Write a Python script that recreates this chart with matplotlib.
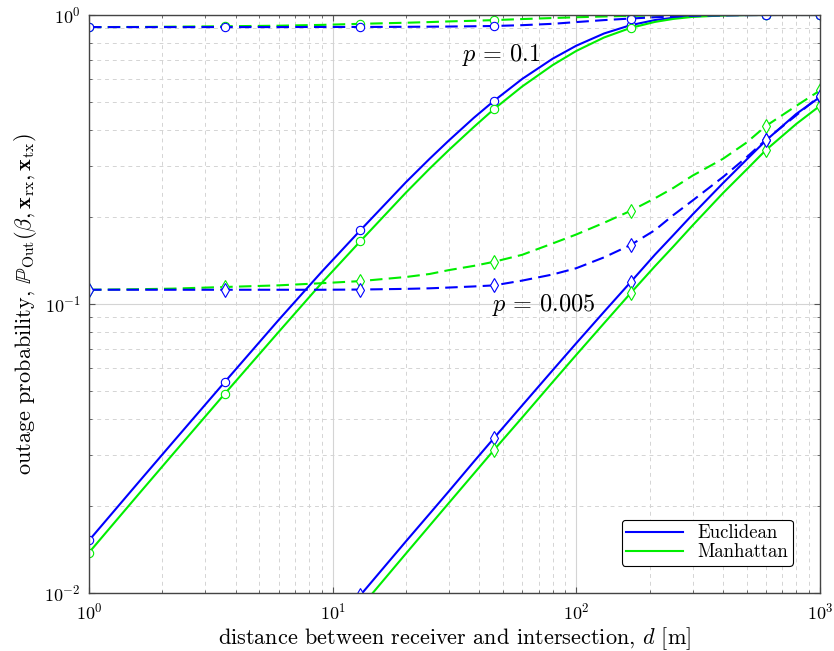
# outage probability vs distance, euclidean vs manhattan
import numpy as np
import matplotlib
matplotlib.use('Agg')
import matplotlib.pyplot as plt
from matplotlib import rcParams
from matplotlib.lines import Line2D

config = {
    "font.family": 'serif',
    "font.serif": ['cmr10', 'DejaVu Serif'],
    "mathtext.fontset": 'cm',
    "axes.formatter.use_mathtext": True,
    "axes.unicode_minus": False,
    "font.size": 14,
}
rcParams.update(config)

# distance grid [m]
d = [1, 1.6, 2.2, 3.6, 6, 9, 13, 20, 25, 30, 38, 46, 60, 80, 100, 130, 167, 210, 250,
     300, 400, 500, 600, 800, 1000]
mark_idx = [0, 3, 6, 11, 16, 22, 24]

# p = 0.1, solid
euc_01 = [0.0152, 0.0242, 0.0331, 0.0536, 0.088, 0.129, 0.180, 0.264, 0.318, 0.368,
          0.441, 0.505, 0.601, 0.706, 0.783, 0.863, 0.922, 0.960, 0.978, 0.990, 0.998,
          0.9995, 1.0, 1.0, 1.0]
man_01 = [0.0138, 0.0220, 0.0301, 0.0488, 0.080, 0.118, 0.165, 0.243, 0.294, 0.341,
          0.410, 0.473, 0.566, 0.671, 0.751, 0.836, 0.902, 0.946, 0.969, 0.985, 0.996,
          0.999, 1.0, 1.0, 1.0]
# p = 0.1, dashed
euc_01_d = [0.908, 0.908, 0.908, 0.908, 0.908, 0.909, 0.909, 0.910, 0.911, 0.912,
            0.914, 0.916, 0.922, 0.932, 0.945, 0.960, 0.972, 0.982, 0.988, 0.993,
            0.997, 0.999, 1.0, 1.0, 1.0]
man_01_d = [0.908, 0.909, 0.911, 0.914, 0.918, 0.924, 0.932, 0.940, 0.945, 0.950,
            0.955, 0.960, 0.968, 0.976, 0.982, 0.988, 0.993, 0.996, 0.998, 0.999,
            1.0, 1.0, 1.0, 1.0, 1.0]
# p = 0.005, solid
euc_0005 = [0.00076, 0.00122, 0.00167, 0.00274, 0.00455, 0.00682, 0.00983, 0.0151,
            0.0188, 0.0225, 0.0285, 0.0344, 0.0446, 0.0590, 0.0732, 0.0940, 0.119,
            0.148, 0.173, 0.204, 0.262, 0.316, 0.368, 0.455, 0.52]
man_0005 = [0.00069, 0.0011, 0.00152, 0.00248, 0.00413, 0.0062, 0.0089, 0.0137,
            0.0171, 0.0205, 0.0259, 0.0313, 0.0405, 0.0537, 0.0667, 0.0858, 0.109,
            0.135, 0.158, 0.187, 0.242, 0.292, 0.341, 0.42, 0.485]
# p = 0.005, dashed
euc_0005_d = [0.112, 0.112, 0.112, 0.112, 0.112, 0.112, 0.1122, 0.1128, 0.1133, 0.114,
              0.115, 0.116, 0.1205, 0.1265, 0.133, 0.145, 0.160, 0.180, 0.203, 0.228,
              0.275, 0.322, 0.370, 0.450, 0.525]
man_0005_d = [0.112, 0.1125, 0.113, 0.1145, 0.116, 0.118, 0.120, 0.124, 0.127, 0.131,
              0.1355, 0.140, 0.148, 0.162, 0.174, 0.191, 0.210, 0.232, 0.252, 0.278,
              0.318, 0.362, 0.413, 0.485, 0.548]

blue = '#0000ff'
green = '#00ee00'

fig = plt.figure(figsize=(8.34, 6.51), dpi=100)
ax = fig.add_axes([0.1067, 0.0891, 0.8765, 0.8879])

kw = dict(lw=1.5, markevery=mark_idx, markerfacecolor='white', markeredgewidth=0.8)
ax.plot(d, euc_01, '-', color=blue, marker='o', ms=6, **kw)
ax.plot(d, man_01, '-', color=green, marker='o', ms=6, **kw)
ax.plot(d, euc_01_d, '--', color=blue, marker='o', ms=6, dashes=(6, 3), **kw)
ax.plot(d, man_01_d, '--', color=green, marker='o', ms=6, dashes=(6, 3), zorder=1.9, **kw)
ax.plot(d, euc_0005, '-', color=blue, marker='d', ms=7, **kw)
ax.plot(d, man_0005, '-', color=green, marker='d', ms=7, **kw)
ax.plot(d, euc_0005_d, '--', color=blue, marker='d', ms=7, dashes=(6, 3), **kw)
ax.plot(d, man_0005_d, '--', color=green, marker='d', ms=7, dashes=(6, 3), zorder=1.9, **kw)

ax.set_xscale('log')
ax.set_yscale('log')
ax.set_xlim(1, 1000)
ax.set_ylim(0.01, 1)

ax.grid(True, which='major', color='#d4d4d4', lw=0.8, ls='-')
ax.grid(True, which='minor', color='#d4d4d4', lw=0.7, ls=(0, (4, 4)))
ax.set_axisbelow(True)
ax.tick_params(which='both', direction='in', top=True, right=True, color='#555555')
ax.tick_params(which='major', length=4, labelsize=13, pad=6)
ax.tick_params(which='minor', length=2)
for s in ax.spines.values():
    s.set_color('#444444')
    s.set_linewidth(1.0)

ax.text(34, 0.727, r'$p\,=\,0.1$', fontsize=17.5, va='center')
ax.text(45, 0.0995, r'$p\,=\,0.005$', fontsize=17.5, va='center')

ax.set_xlabel(r'distance between receiver and intersection, $d$ [m]', fontsize=16, labelpad=2)
ax.set_ylabel(r'outage probability, $\mathbb{P}_{\rm Out}(\beta, \mathbf{x}_{\rm rx}, \mathbf{x}_{\rm tx})$',
              fontsize=16)

handles = [Line2D([], [], color=blue, lw=1.5), Line2D([], [], color=green, lw=1.5)]
leg = ax.legend(handles, ['Euclidean', 'Manhattan'], loc='lower right',
                bbox_to_anchor=(0.963, 0.047), borderaxespad=0,
                fontsize=13.5, fancybox=True, framealpha=1, edgecolor='black',
                handlelength=3.0, handletextpad=0.8, labelspacing=0.05, borderpad=0.25)
leg.get_frame().set_linewidth(0.8)

plt.savefig('out.png', dpi=100)
